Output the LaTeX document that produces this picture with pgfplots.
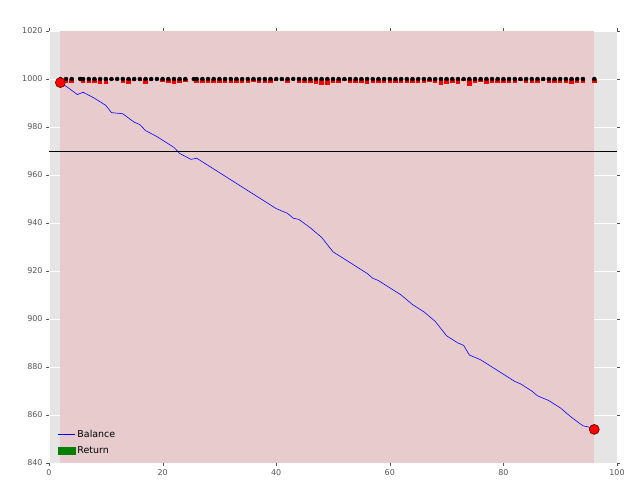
\documentclass[border=0pt]{standalone}
\usepackage{pgfplots}
\pgfplotsset{compat=1.18}
\usepackage{fontspec}
\setmainfont{DejaVu Sans}
\definecolor{bg}{RGB}{229,229,229}
\definecolor{pinkr}{RGB}{232,204,205}
\definecolor{tk}{RGB}{85,85,85}
\definecolor{gr}{RGB}{0,128,0}
\begin{document}
\begin{tikzpicture}
\begin{axis}[
  scale only axis, width=568bp, height=432bp,
  xmin=0, xmax=100, ymin=840, ymax=1020,
  xtick={0,20,...,100}, ytick={840,860,...,1020},
  axis background/.style={fill=bg},
  axis line style={draw=none},
  grid=major, grid style={white, line width=0.8pt},
  tick style={tk}, tick align=outside, major tick length=3bp,
  ticklabel style={font=\fontsize{8}{9}\selectfont, text=tk},
  /pgf/number format/assume math mode=true,
  /pgf/number format/1000 sep={},
  legend style={draw=none, fill=none, at={(0.01,0.01)}, anchor=south west, font=\fontsize{9.5}{11}\selectfont, row sep=3pt},
  legend cell align=left,
]
\addplot[draw=none, fill=pinkr, forget plot] coordinates {(2,840) (2,1020) (96,1020) (96,840)} --cycle;
\addplot[blue, line width=0.6pt, forget plot] coordinates {
(2,998)(3,997)(5,993.5)(6,994.5)(8,992)(10,989)(11,986)(13,985.5)(15,982)(16,981)(17,978.5)(19,976)(21,973)(22,971.5)(23,969)(25,966.5)(26,967)(28,964)(30,961)(32,958)(34,955)(36,952)(38,949)(40,946)(42,944)(43,942)(44,941.5)(46,938)(48,934)(50,928)(52,925)(54,922)(56,919)(57,917)(58,916)(60,913)(62,910)(64,906)(66,903)(68,899)(70,893)(72,890)(73,889)(74,885)(76,883)(78,880)(80,877)(82,874)(83,873)(85,870)(86,868)(88,866)(90,863)(92,859)(94,855.5)(95,855)(96,854)};
\addplot[forget plot, only marks, mark=none, error bars/.cd, y dir=plus, y explicit,
  error mark=none, error bar style={gr, line width=4.5bp, line cap=butt}]
  coordinates {(5.5,1000) +- (0,1) (25.5,1000) +- (0,0.4)};
\addplot[forget plot, only marks, mark=none, error bars/.cd, y dir=minus, y explicit,
  error mark=none, error bar style={red, line width=4.5bp, line cap=butt}]
  table[y error index=2] {
x y e
2 1000 1.5
3 1000 1.5
4 1000 1.5
6 1000 1.5
7 1000 1.5
8 1000 1.5
9 1000 2
10 1000 2
11 1000 0.3
12 1000 0.3
13 1000 1.5
14 1000 2
15 1000 1
16 1000 1
17 1000 2
18 1000 1
19 1000 0.6
20 1000 1.2
21 1000 1.5
22 1000 2
23 1000 1.5
24 1000 1.2
26 1000 1.5
27 1000 1.5
28 1000 1.5
29 1000 1.5
30 1000 1.5
31 1000 1.5
32 1000 1.5
33 1000 1.5
34 1000 1.5
35 1000 1.5
36 1000 1.2
37 1000 1.5
38 1000 1.5
39 1000 1.5
40 1000 1
41 1000 1
42 1000 1.5
43 1000 0.5
44 1000 1.5
45 1000 1.5
46 1000 1.5
47 1000 2
48 1000 2.5
49 1000 2.5
50 1000 1.5
51 1000 1.5
52 1000 1
53 1000 1.5
54 1000 1.5
55 1000 1.5
56 1000 2
57 1000 1.5
58 1000 1.5
59 1000 1.5
60 1000 1.5
61 1000 1.5
62 1000 1.5
63 1000 1.5
64 1000 1.5
65 1000 1.5
66 1000 1.5
67 1000 1.2
68 1000 1.5
69 1000 2.5
70 1000 2
71 1000 1.5
72 1000 2
73 1000 1
74 1000 3
75 1000 1.5
76 1000 1.2
77 1000 2
78 1000 1.5
79 1000 1.5
80 1000 1.5
81 1000 1.5
82 1000 1.5
83 1000 1
84 1000 1.5
85 1000 1.5
86 1000 1.5
87 1000 1
88 1000 1.5
89 1000 1.5
90 1000 1.5
91 1000 1.5
92 1000 2
93 1000 1.5
94 1000 1.5
96 1000 1.5
};
\addplot[forget plot, black, line width=0.8pt] coordinates {(0,970)(100,970)};
\addplot[forget plot, only marks, mark=*, mark size=5bp, mark options={fill=red, draw=black!60!red, line width=0.6pt}] coordinates {(2,998.5)(96,854)};
\addlegendimage{blue, line width=0.6pt}
\addlegendentry{Balance}
\addlegendimage{legend image code/.code={\fill[gr] (0cm,-0.12cm) rectangle (0.6cm,0.12cm);}}
\addlegendentry{Return}
\end{axis}
\path[use as bounding box] ([shift={(-49bp,-31bp)}]current axis.south west) rectangle ([shift={(23bp,31bp)}]current axis.north east);
\end{tikzpicture}
\end{document}
